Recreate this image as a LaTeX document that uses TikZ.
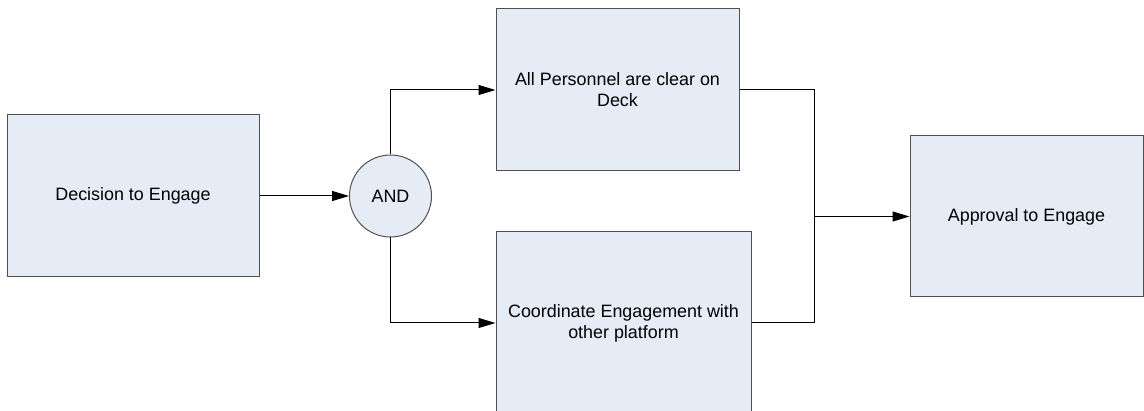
\documentclass[tikz,border=0pt]{standalone}
\usepackage{fontspec}
\setmainfont{Liberation Sans}
\usetikzlibrary{arrows.meta}
\definecolor{boxfill}{RGB}{230,236,246}
\definecolor{boxline}{RGB}{80,80,80}
\tikzset{
  procbox/.style={draw=boxline, fill=boxfill, line width=1pt, inner sep=0pt, align=center,
    font=\fontsize{17.9}{21}\selectfont},
  gate/.style={circle, draw=boxline, fill=boxfill, line width=1pt, inner sep=0pt, minimum size=82pt,
    font=\fontsize{17.9}{21}\selectfont},
  conn/.style={line width=1pt, -{Triangle[length=17pt,width=10pt]}},
  plain/.style={line width=1pt}
}
\begin{document}
\begin{tikzpicture}[x=1pt,y=-1pt]
\useasboundingbox (0,0) rectangle (1144,411);
\clip (0,0) rectangle (1144,411);
\node[procbox, minimum width=252pt, minimum height=162pt] (dec) at (133,196) {Decision to Engage};
\node[gate] (and) at (390.5,196) {AND};
\node[procbox, minimum width=243pt, minimum height=162pt] (pers) at (617.5,90) {All Personnel are clear on\\Deck};
\node[procbox, minimum width=255pt, minimum height=182pt] (coord) at (623.5,323) {Coordinate Engagement with\\other platform};
\node[procbox, minimum width=233pt, minimum height=161pt] (appr) at (1026.5,216.5) {Approval to Engage};
\coordinate (j) at (814,216.5);
\draw[conn] (dec) -- (and);
\draw[conn] (and.north) |- (pers.west);
\draw[conn] (and.south) |- (coord.west);
\draw[plain] (pers.east) -| (j);
\draw[plain] (coord.east) -| (j);
\draw[conn] (j) -- (appr.west);
\end{tikzpicture}
\end{document}
